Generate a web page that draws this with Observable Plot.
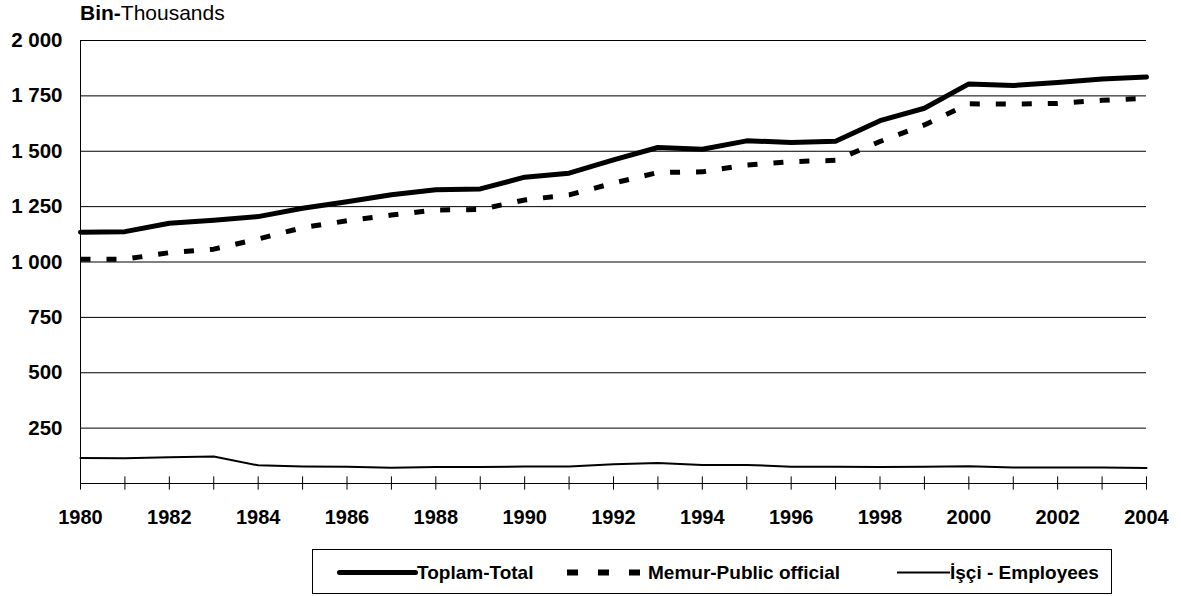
<!DOCTYPE html>
<html><head><meta charset="utf-8">
<script src="https://cdn.jsdelivr.net/npm/d3@7"></script>
<script src="https://cdn.jsdelivr.net/npm/@observablehq/plot@0.6"></script>
<style>
body{margin:0;background:#fff;font-family:"Liberation Sans",Arial,sans-serif;}
#wrap{position:relative;width:1181px;height:596px;overflow:hidden;background:#fff;}
#chart{position:absolute;left:0;top:0;}
#title{position:absolute;left:80px;top:2px;font-size:21px;line-height:21px;color:#000;white-space:nowrap;}
#legend{position:absolute;left:312px;top:549px;width:798px;height:43px;border:1px solid #000;box-sizing:content-box;}
#legend .sw{position:absolute;top:0;height:43px;}
#legend .lab{position:absolute;top:0;line-height:45px;font-size:19px;font-weight:bold;white-space:nowrap;color:#000;}
</style>
</head><body>
<div id="wrap">
  <div id="chart"></div>
  <div id="title"><b>Bin-</b>Thousands</div>
  <div id="legend"></div>
</div>
<script>
const years = [1980,1981,1982,1983,1984,1985,1986,1987,1988,1989,1990,1991,1992,1993,1994,1995,1996,1997,1998,1999,2000,2001,2002,2003,2004];
const total = [1134,1137,1175,1188,1205,1243,1272,1304,1326,1330,1383,1401,1461,1517,1509,1547,1540,1545,1638,1694,1804,1797,1810,1826,1835];
const memur = [1012,1013,1042,1058,1104,1155,1186,1212,1235,1237,1280,1303,1356,1404,1407,1438,1453,1459,1544,1619,1714,1713,1716,1730,1740];
const isci  = [115,114,119,122,82,77,76,71,74,74,77,77,87,92,84,84,76,76,74,76,78,72,72,72,70];
const xTickLabels = [1980,1982,1984,1986,1988,1990,1992,1994,1996,1998,2000,2002,2004];
const yTickValues = [250,500,750,1000,1250,1500,1750,2000];
const seriesNames = ["Toplam-Total","Memur-Public official","İşçi - Employees"];

const rows = years.map((y,i)=>({year:y,total:total[i],memur:memur[i],isci:isci[i]}));
const fmtY = d => d3.format(",")(d).replace(/,/g," ");

const chart = Plot.plot({
  width:1181, height:540,
  marginTop:40, marginBottom:57, marginLeft:80, marginRight:35,
  x:{domain:[1980,2004]},
  y:{domain:[0,2000]},
  style:{fontFamily:"'Liberation Sans', Arial, sans-serif", color:"#000", background:"transparent", overflow:"visible"},
  marks:[
    Plot.ruleY(yTickValues,{stroke:"#000",strokeWidth:1}),
    Plot.ruleY([0],{stroke:"#000",strokeWidth:1}),
    Plot.ruleX([1980],{y1:0,y2:2000,stroke:"#000",strokeWidth:1}),
    Plot.ruleX(years,{x:d=>d,y1:-30,y2:30,stroke:"#000",strokeWidth:1}),
    Plot.axisX({ticks:xTickLabels,tickSize:0,tickPadding:26,tickFormat:d=>String(d),fontWeight:"bold",fontSize:20,label:null}),
    Plot.axisY({ticks:yTickValues,tickSize:0,tickPadding:18,tickFormat:fmtY,fontWeight:"bold",fontSize:20.5,label:null}),
    Plot.line(rows,{x:"year",y:"isci",stroke:"#000",strokeWidth:2}),
    Plot.line(rows,{x:"year",y:"memur",stroke:"#000",strokeWidth:5,strokeDasharray:"10,16",strokeLinecap:"butt"}),
    Plot.line(rows,{x:"year",y:"total",stroke:"#000",strokeWidth:5})
  ]
});
document.getElementById("chart").appendChild(chart);

// legend
const lg = document.getElementById("legend");
const items = [
  {sw:24, w:81, lab:104, width:5, dash:null, cap:"round"},
  {sw:254, w:75, lab:335, width:6, dash:"11,20", cap:"butt"},
  {sw:584, w:53, lab:637, width:2, dash:null, cap:"butt"}
];
items.forEach((it,i)=>{
  const s = document.createElementNS("http://www.w3.org/2000/svg","svg");
  s.setAttribute("class","sw");
  s.setAttribute("width",it.w);
  s.setAttribute("height",43);
  s.style.left = it.sw+"px";
  const l = document.createElementNS("http://www.w3.org/2000/svg","line");
  const pad = it.cap==="round"?2.5:0;
  l.setAttribute("x1",pad); l.setAttribute("x2",it.w-pad);
  l.setAttribute("y1",22.5); l.setAttribute("y2",22.5);
  l.setAttribute("stroke","#000"); l.setAttribute("stroke-width",it.width);
  l.setAttribute("stroke-linecap",it.cap);
  if(it.dash) l.setAttribute("stroke-dasharray",it.dash);
  s.appendChild(l);
  lg.appendChild(s);
  const t = document.createElement("span");
  t.className="lab"; t.style.left=it.lab+"px"; t.textContent=seriesNames[i];
  lg.appendChild(t);
});
</script>
</body></html>
